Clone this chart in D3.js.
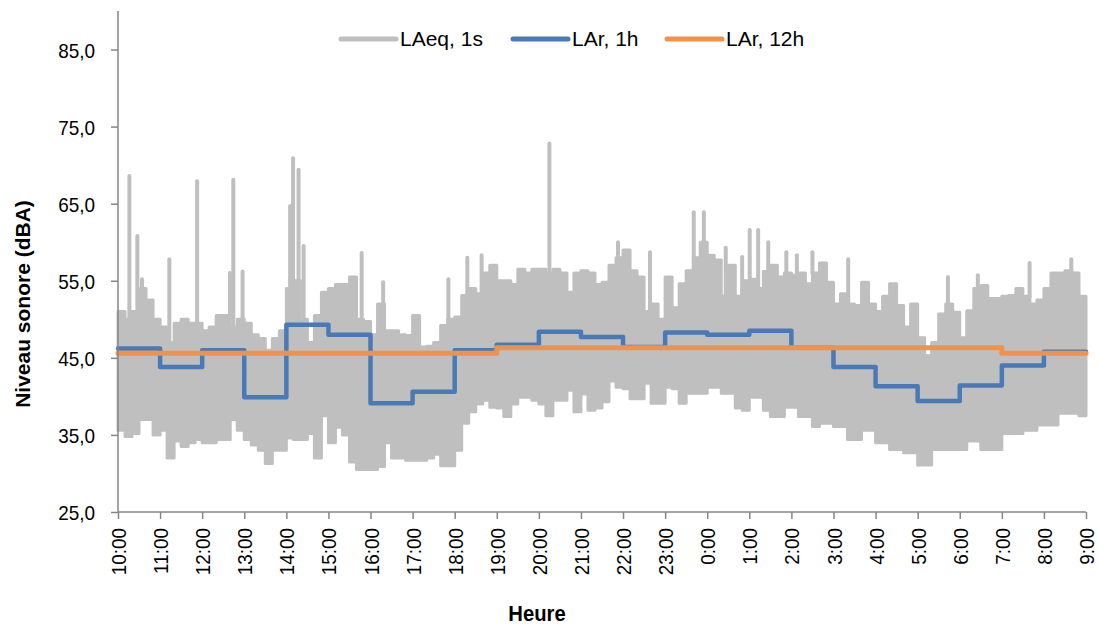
<!DOCTYPE html>
<html><head><meta charset="utf-8">
<script src="https://cdn.jsdelivr.net/npm/d3@7/dist/d3.min.js"></script>
<style>
body{margin:0;background:#fff}
text{font-family:"Liberation Sans",Arial,sans-serif;fill:#000}
</style>
</head><body>
<svg id="c" width="1099" height="625"></svg>
<script>
// ---- data ----
const hourLabels = ["10:00","11:00","12:00","13:00","14:00","15:00","16:00","17:00","18:00","19:00","20:00","21:00","22:00","23:00","0:00","1:00","2:00","3:00","4:00","5:00","6:00","7:00","8:00","9:00"];
const yTicks = [25,35,45,55,65,75,85];
// hourly LAr, 1h (10:00-11:00 ... 8:00-9:00)
const lar1h = [46.2,43.8,46.0,39.9,49.3,48.0,39.1,40.6,46.0,46.7,48.4,47.7,46.4,48.3,48.0,48.5,46.3,43.8,41.3,39.4,41.4,44.0,45.8];
// LAr, 12h per hour
const lar12h = [45.6,45.6,45.6,45.6,45.6,45.6,45.6,45.6,45.6,46.3,46.3,46.3,46.3,46.3,46.3,46.3,46.3,46.3,46.3,46.3,46.3,45.6,45.6];
// LAeq 1s : upper / lower envelope per 10 minutes
const laeqHi = [51,50,51,54,52.5,50,49,47,49.5,50,49.5,49.5,48.5,49,50.5,50.5,49,50,49.5,48,47.5,46,47.5,48.5,54,55,50,47,50.5,53.5,54,54.5,54.5,
 55.5,50,49.7,48,52,48.5,48.5,48,47.9,50.5,46.4,46.5,47,49.2,50,50.3,53.1,54,53.3,56,57,55,55,54.5,56.5,56,56.5,56.5,56,56.5,56,53.5,56,
 56.3,56,54.5,54.8,57,58,59,56.3,55.5,51,52,50,55.5,51.5,54.6,56.3,58,60,58.3,57.7,53,57,53,55,55.2,54,56.2,57,55.5,56,55.7,56,54.6,56,57.3,54.8,
 52,53.3,52,51.8,54.8,52,51,53,54.6,51.8,49,52,47.6,45.3,47,50.7,52,50.9,47.6,51.1,54,54.4,52.7,52.7,53,53.1,54,53,52,52.5,54,56,56,56.3,56,53];
const laeqLo = [35.6,34.8,35.2,37,37,35,35.6,32,34.2,33.5,34,34.4,34,34,34.4,34.4,37,35.6,34.4,33.7,33,31.3,33,33,34.6,34.4,34.4,35.2,32,37.5,34,36,35,
 31.5,30.5,30.5,30.5,30.9,34,32,32,31.7,31.7,31.7,32,32.5,31,31,33,36.5,38,39,39.5,38.6,38.5,37.4,39,39.9,39.9,39.5,39,37.5,39.5,39.5,40.8,38,
 40.3,38.2,38.5,39.3,42,41.2,41,39.7,39.7,41.7,39.1,39.1,41.2,41,39.1,40.4,40.4,40.4,41.2,41.2,40.4,40.4,38.5,38.2,39.9,39.9,38.2,37.4,37.4,38.6,38.6,37.4,37.4,36.1,36.5,36.5,
 36.1,36.1,34.4,34.4,35.6,35.6,34,34,33.1,33.1,32.7,32.7,31.1,31.1,33.1,33.1,33.1,33.1,33.1,34.2,34.2,33.1,33.1,33.1,35.2,35.2,35.2,35.6,35.6,36.3,36.3,36.3,37.8,37.8,37.8,37.5];
// isolated peaks: [hours since 10:00, dB]
const laeqPeaks = [[0.27,68.6],[0.46,60.8],[0.57,55.2],[1.22,57.8],[1.88,67.9],[2.66,56.0],[2.74,68.1],[2.96,56.2],[4.09,64.7],[4.16,70.9],[4.29,69.4],[4.41,59.5],
 [5.79,58.6],[6.3,54.8],[7.85,55.2],[8.3,58.0],[8.64,58.3],[10.25,72.8],[11.88,60.0],[12.64,58.7],[13.68,63.9],[13.92,63.9],[14.44,59.3],[14.83,58.1],[15.01,61.6],
 [15.21,61.6],[15.45,60.0],[15.88,58.7],[16.13,58.3],[16.5,58.7],[17.35,57.8],[19.72,55.5],[20.43,55.7],[21.66,57.3],[22.65,57.8]];
const legendItems = [{name:"LAeq, 1s",color:"#bfbfbf"},{name:"LAr, 1h",color:"#4a7ab5"},{name:"LAr, 12h",color:"#f0924a"}];

// ---- chart ----
const svg = d3.select("#c");
const x = d3.scaleLinear().domain([0,23]).range([118,1086]);
const y = d3.scaleLinear().domain([25,90]).range([512,11]);
const axisColor = "#868686";
function squeeze(sel, k){ sel.each(function(){ const L=this.getComputedTextLength(); this.setAttribute("textLength", L*k); this.setAttribute("lengthAdjust","spacingAndGlyphs"); }); }

// gray band
const bins = laeqHi.map((h,i)=>({t:i/6,hi:h,lo:laeqLo[i]}));
bins.push({t:23,hi:laeqHi[laeqHi.length-1],lo:laeqLo[laeqLo.length-1]});
const area = d3.area().x(d=>x(d.t)).y0(d=>y(d.lo)).y1(d=>y(d.hi)).curve(d3.curveStepAfter);
svg.append("path").datum(bins).attr("d",area).attr("fill","#bfbfbf").attr("stroke","#bfbfbf").attr("stroke-width",3).attr("stroke-linejoin","round");
svg.append("g").selectAll("line").data(laeqPeaks).join("line")
  .attr("x1",d=>x(d[0])).attr("x2",d=>x(d[0]))
  .attr("y1",d=>y(laeqHi[Math.min(137,Math.floor(d[0]*6))]))
  .attr("y2",d=>y(d[1]))
  .attr("stroke","#bfbfbf").attr("stroke-width",4).attr("stroke-linecap","round");

// step lines
const stepData = arr => arr.map((v,i)=>({t:i,v})).concat([{t:23,v:arr[arr.length-1]}]);
const step = d3.line().x(d=>x(d.t)).y(d=>y(d.v)).curve(d3.curveStepAfter);
svg.append("path").datum(stepData(lar1h)).attr("d",step).attr("fill","none").attr("stroke","#4a7ab5").attr("stroke-width",4.5).attr("stroke-linejoin","round").attr("stroke-linecap","round");
svg.append("path").datum(stepData(lar12h)).attr("d",step).attr("fill","none").attr("stroke","#f0924a").attr("stroke-width",5).attr("stroke-linejoin","round").attr("stroke-linecap","round");

// axes
const yAxis = d3.axisLeft(y).tickValues(yTicks).tickSize(7).tickFormat(d=>d3.format(".1f")(d).replace(".",","));
const gy = svg.append("g").attr("transform","translate(118,0)").call(yAxis);
gy.select(".domain").attr("stroke",axisColor).attr("stroke-width",1.5).attr("d","M0,11V512");
gy.selectAll(".tick line").attr("stroke",axisColor).attr("stroke-width",1.5);
gy.selectAll(".tick text").attr("x",-23).attr("dy","0.36em").style("font-size","21px").style("font-family",null).call(squeeze,0.9);

const xAxis = d3.axisBottom(x).tickValues(d3.range(24)).tickSize(7).tickFormat(i=>hourLabels[i]);
const gx = svg.append("g").attr("transform","translate(0,512)").call(xAxis);
gx.select(".domain").attr("stroke",axisColor).attr("stroke-width",1.5).attr("d","M118,0H1086");
gx.selectAll(".tick line").attr("stroke",axisColor).attr("stroke-width",1.5);
gx.selectAll(".tick text").attr("transform","rotate(-90)").attr("x",-16).attr("y",0).attr("dy","0.36em")
  .attr("text-anchor","end").style("font-size","21px").style("font-family",null).call(squeeze,0.9);

// titles
svg.append("text").attr("transform","translate(30,304) rotate(-90)").attr("text-anchor","middle")
  .style("font-size","21px").style("font-weight","bold").text("Niveau sonore (dBA)");
svg.append("text").attr("x",537).attr("y",621).attr("text-anchor","middle")
  .style("font-size","22px").style("font-weight","bold").text("Heure").call(squeeze,0.92);

// legend
const legX = [341,513,667];
const lg = svg.append("g");
legendItems.forEach((d,i)=>{
  lg.append("line").attr("x1",legX[i]).attr("x2",legX[i]+55).attr("y1",39).attr("y2",39)
    .attr("stroke",d.color).attr("stroke-width",5).attr("stroke-linecap","round");
  lg.append("text").attr("x",legX[i]+59).attr("y",46).style("font-size","21px").text(d.name);
});
</script>
</body></html>
